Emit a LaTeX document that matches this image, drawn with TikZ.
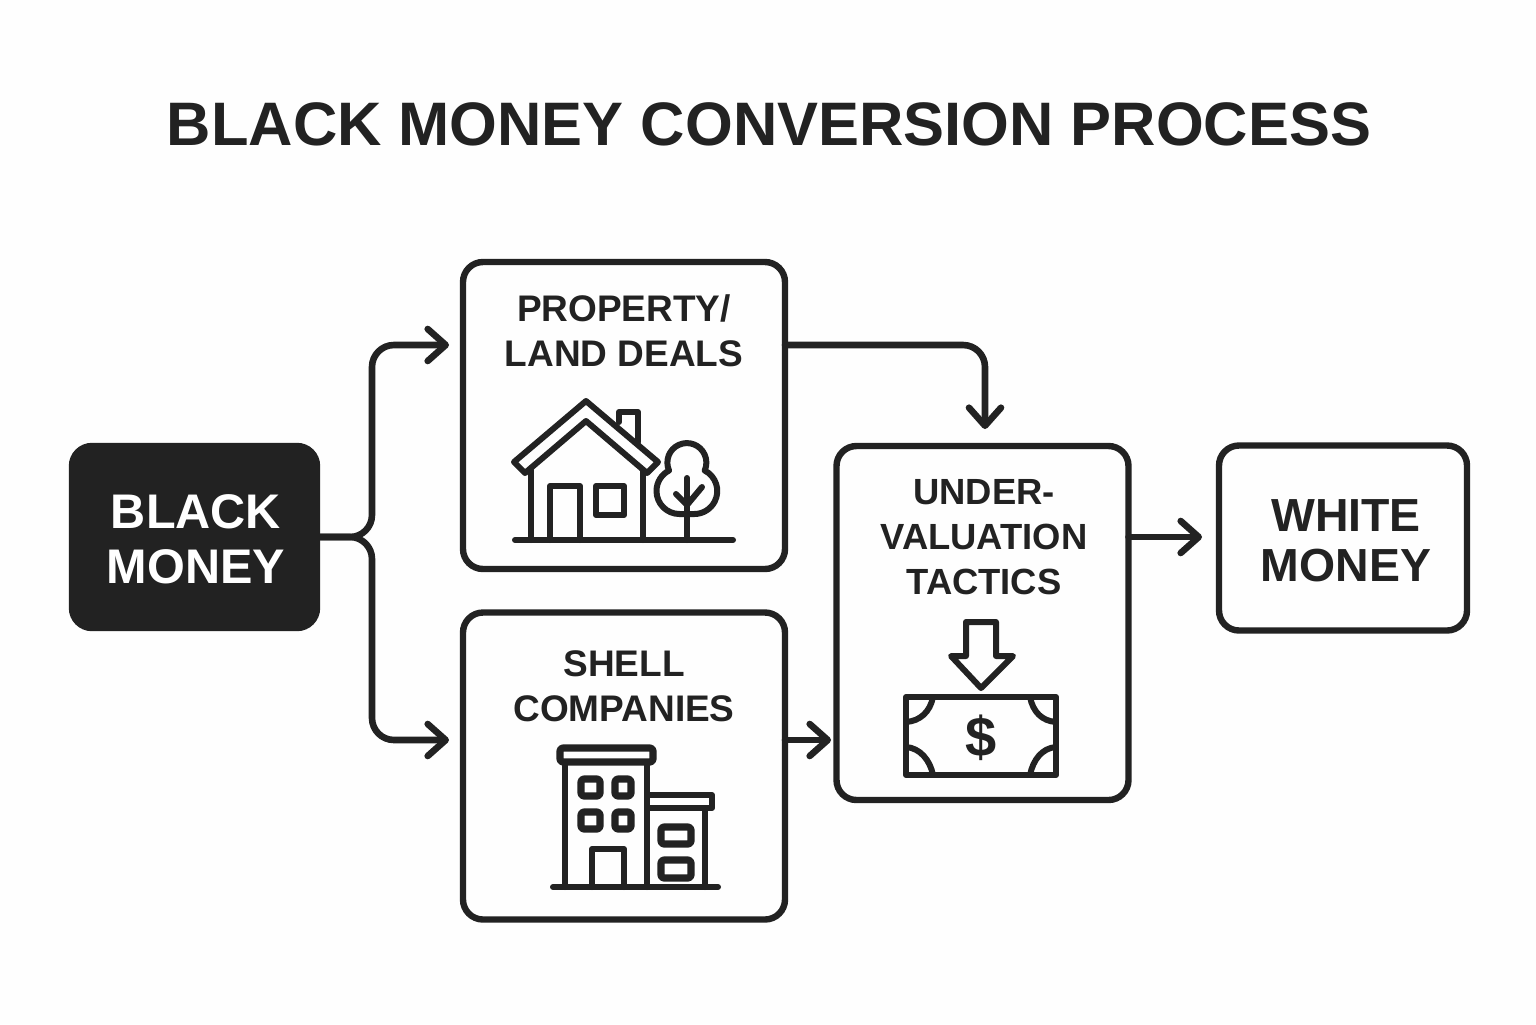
\documentclass[tikz,border=0pt]{standalone}
\usepackage{fontspec}
\setmainfont{Liberation Sans}
\usepackage{tikz}
\usetikzlibrary{arrows.meta,positioning}
\definecolor{ink1}{RGB}{34,34,34}
\definecolor{paper1}{RGB}{254,254,254}

\begin{document}
\begin{tikzpicture}[
    x=0.5pt, y=-0.5pt,
    box/.style={draw=ink1, fill=paper1, line width=3.2pt, rounded corners=10pt, outer sep=0pt, inner sep=0pt},
    darkbox/.style={box, fill=ink1},
    boxtext/.style={text=ink1, align=center, font=\bfseries\fontsize{18.5}{22.5}\selectfont},
    bigtext/.style={text=ink1, align=center, font=\bfseries\fontsize{23.2}{25}\selectfont},
    flow/.style={draw=ink1, line width=3.3pt, rounded corners=11pt, line join=round, line cap=round,
        -{Straight Barb[length=9pt,width=16pt,line width=3.3pt,round]}},
    icon/.style={draw=ink1, line width=3pt, line join=round, line cap=round},
    pane/.style={icon, line width=3.6pt, rounded corners=1.5pt}
]
    \fill[paper1] (0,0) rectangle (1536,1024);
    \useasboundingbox (0,0) rectangle (1536,1024);

    \node[text=ink1, font=\bfseries\fontsize{30.7}{34}\selectfont, name=title] at(769,124) {BLACK MONEY CONVERSION PROCESS};

    \node[darkbox, minimum width=122.5pt, minimum height=91pt, name=black] at(194.5,537) {};
    \node[box, minimum width=161pt, minimum height=153.5pt, name=prop] at(624,415.5) {};
    \node[box, minimum width=161pt, minimum height=153.5pt, name=shell] at(624,766) {};
    \node[box, minimum width=146pt, minimum height=177pt, name=under] at(982.5,623) {};
    \node[box, minimum width=124pt, minimum height=92.5pt, name=white] at(1343,538) {};

    \node[bigtext, text=white, font=\bfseries\fontsize{24.3}{27.5}\selectfont, name=blacktext] at(196,539) {BLACK\\MONEY};
    \node[bigtext, name=whitetext] at(1346,541) {WHITE\\MONEY};
    \node[boxtext, name=proptext] at(624,331) {PROPERTY/\\LAND DEALS};
    \node[boxtext, name=shelltext] at(624,686) {SHELL\\COMPANIES};
    \node[boxtext, font=\bfseries\fontsize{18.2}{22.5}\selectfont, name=undertext] at(984,537) {UNDER-\\VALUATION\\TACTICS};

    % connectors
    \coordinate (split) at (372,537);
    \coordinate (propin) at (449,345);
    \coordinate (shellin) at (449,740);
    \coordinate (undertop) at (985,429);
    \coordinate (underleft) at (831,740);
    \coordinate (whitein) at (1202,537);

    \draw[flow] (black.east) -- (split) |- (propin);
    \draw[flow] (black.east) -- (split) |- (shellin);
    \draw[flow] (prop.east |- propin) -| (undertop);
    \draw[flow, rounded corners=0pt] (shell.east |- shellin) -- (underleft);
    \draw[flow, rounded corners=0pt] (under.east |- whitein) -- (whitein);

    % house
    \draw[icon] (515,540) -- (733,540);
    \draw[icon] (586,401) -- (514,462) -- (525,473) -- (586,421) -- (647,473) -- (658,462) -- cycle;
    \draw[icon] (531,470) -- (531,540);
    \draw[icon] (643,470) -- (643,540);
    \draw[icon] (550,540) -- (550,486) -- (580,486) -- (580,540);
    \draw[icon] (596,486) rectangle (624,515);
    \draw[icon] (619,422) -- (619,412) -- (638,412) -- (638,442);
    % tree
    \draw[icon] (687,478) -- (687,540);
    \draw[icon] (676,494) -- (687,505) -- (702,487);
    \draw[icon] (679.5,514) arc[start angle=90, end angle=243, radius=23]
        arc[start angle=156, end angle=384, radius=19.5]
        arc[start angle=297, end angle=450, radius=23] -- cycle;

    % building
    \draw[icon] (553,887) -- (718,887);
    \draw[pane] (560,748) rectangle (653,762);
    \draw[icon] (565,762) -- (565,887);
    \draw[icon] (647,762) -- (647,887);
    \draw[pane] (581,779) rectangle (600,796);
    \draw[pane] (615,779) rectangle (631,796);
    \draw[pane] (581,812) rectangle (600,829);
    \draw[pane] (615,812) rectangle (631,829);
    \draw[icon] (592,887) -- (592,849) -- (624,849) -- (624,887);
    \draw[icon] (648,795) -- (712,795) -- (712,808) -- (648,808);
    \draw[icon] (705,808) -- (705,887);
    \draw[pane] (661,827) rectangle (691,844);
    \draw[pane] (661,860) rectangle (691,878);

    % banknote with arrow
    \draw[icon] (966,622) -- (996,622) -- (996,656) -- (1013,656) -- (981,688) -- (951,656) -- (966,656) -- cycle;
    \draw[icon] (906,697) rectangle (1056,775);
    \draw[icon] (933,697) .. controls (930,712) and (920,721) .. (906,722);
    \draw[icon] (1030,697) .. controls (1033,712) and (1042,721) .. (1056,722);
    \draw[icon] (906,747) .. controls (920,748) and (930,760) .. (933,775);
    \draw[icon] (1056,747) .. controls (1042,748) and (1033,760) .. (1030,775);
    \node[text=ink1, font=\bfseries\fontsize{28}{32}\selectfont, name=dollar] at(981,738) {\$};
\end{tikzpicture}
\end{document}
